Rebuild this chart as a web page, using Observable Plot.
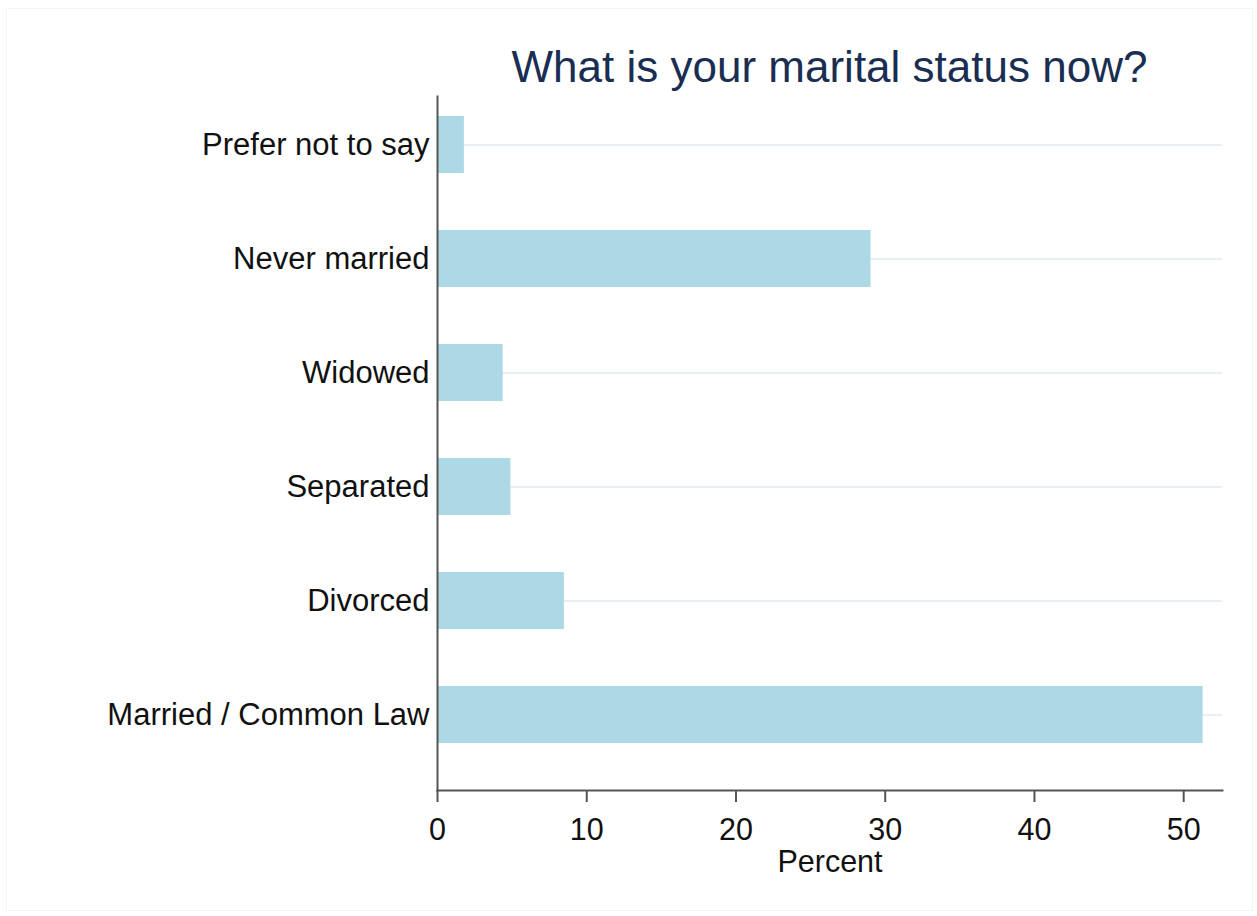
<!DOCTYPE html>
<html>
<head>
<meta charset="utf-8">
<script src="https://cdn.jsdelivr.net/npm/d3@7"></script>
<script src="https://cdn.jsdelivr.net/npm/@observablehq/plot@0.6"></script>
<style>
  html, body { margin: 0; padding: 0; background: #fff; }
  body { width: 1257px; height: 916px; position: relative; overflow: hidden; font-family: "Liberation Sans", Arial, sans-serif; }
  #border { position: absolute; left: 6px; top: 8px; width: 1247px; height: 903px; border: 1px solid #f3f5f5; box-sizing: border-box; }
  #title { position: absolute; left: 437px; width: 785px; top: 45px; line-height: 44px; font-size: 44px; text-align: center; color: #1a2e52; white-space: nowrap; }
  #chart { position: absolute; left: 0; top: 0; }
</style>
</head>
<body>
<div id="border"></div>
<div id="title">What is your marital status now?</div>
<div id="chart"></div>
<script>
const categories = ["Prefer not to say", "Never married", "Widowed", "Separated", "Divorced", "Married / Common Law"];
const percents = [1.8, 29.05, 4.4, 4.92, 8.5, 51.3];
const xTicks = [0, 10, 20, 30, 40, 50];
const xLabel = "Percent";

const data = categories.map((c, i) => ({category: c, percent: percents[i]}));

const chart = Plot.plot({
  width: 1257,
  height: 916,
  marginLeft: 437,
  marginRight: 35,
  marginTop: 96,
  marginBottom: 126,
  style: {fontFamily: "'Liberation Sans', Arial, sans-serif", fontSize: "30px", color: "#111", background: "transparent", overflow: "visible"},
  x: {domain: [0, 52.6]},
  y: {domain: categories, range: [87, 771], paddingInner: 0.5, paddingOuter: 0.25},
  marks: [
    Plot.gridY({stroke: "#e6f0f2", strokeOpacity: 1, strokeWidth: 2}),
    Plot.barX(data, {x: "percent", y: "category", fill: "#add8e6"}),
    Plot.axisY({tickSize: 0, tickPadding: 8, label: null, fontSize: 31, fill: "#111"}),
    Plot.axisX({ticks: xTicks, tickSize: 12, tickPadding: 16, stroke: "#555", strokeWidth: 2, label: null, fontSize: 30.5, fill: "#111"}),
    Plot.frame({anchor: "left", stroke: "#555", strokeWidth: 2}),
    Plot.frame({anchor: "bottom", stroke: "#555", strokeWidth: 2}),
    Plot.text([xLabel], {frameAnchor: "bottom", lineAnchor: "top", dy: 60, fontSize: 30.5, fill: "#111", text: d => d})
  ]
});
document.getElementById("chart").appendChild(chart);
</script>
</body>
</html>
